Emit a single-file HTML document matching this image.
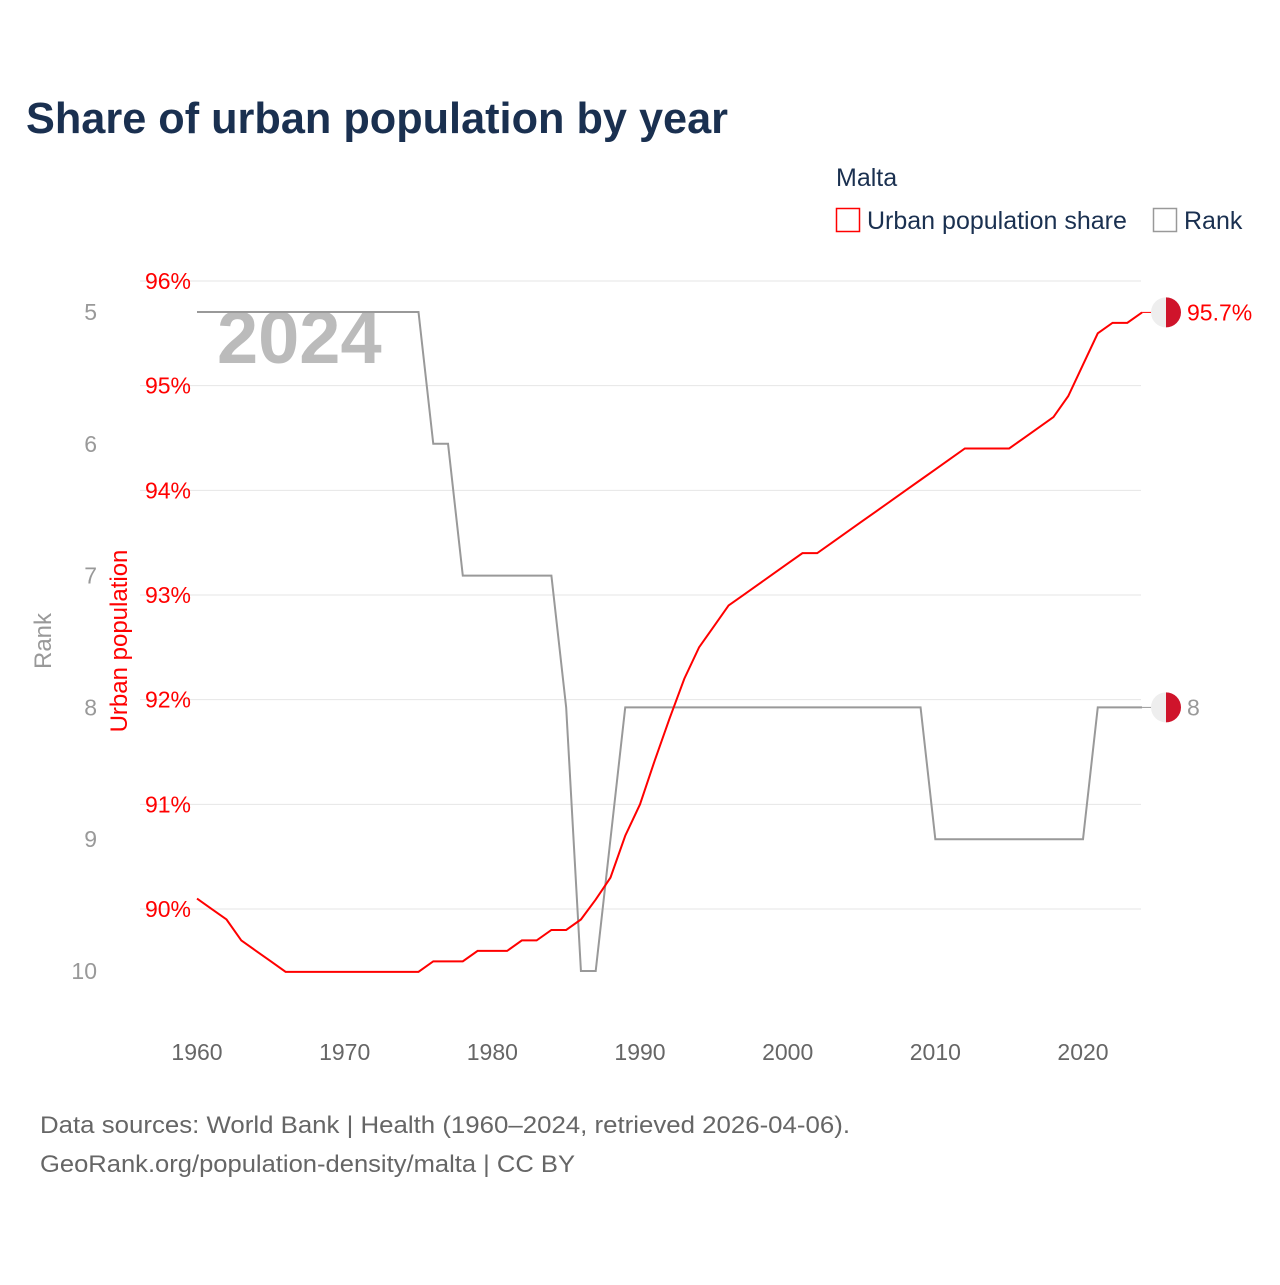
<!DOCTYPE html>
<html><head><meta charset="utf-8"><style>
body{margin:0;background:#fff;}
svg text{font-family:"Liberation Sans",sans-serif;}
</style></head><body>
<svg width="1280" height="1280" viewBox="0 0 1280 1280">
<text x="26" y="133" font-size="44" font-weight="bold" fill="#1a3050" textLength="702" lengthAdjust="spacingAndGlyphs">Share of urban population by year</text>
<text x="836" y="186" font-size="25" fill="#1a3050">Malta</text>
<g><rect x="836.5" y="208.5" width="23" height="23" fill="none" stroke="#f00" stroke-width="1.5"/><text x="867" y="229" font-size="25" fill="#1a3050">Urban population share</text></g>
<g><rect x="1153.5" y="208.5" width="23" height="23" fill="none" stroke="#999" stroke-width="1.5"/><text x="1184" y="229" font-size="25" fill="#1a3050">Rank</text></g>
<g id="grid"></g>
<g id="axes"></g>
<text x="217" y="363" font-size="74" font-weight="bold" fill="#bbb">2024</text>
<g id="series"></g>
<text transform="translate(51,641) rotate(-90)" text-anchor="middle" font-size="24" fill="#999">Rank</text>
<text transform="translate(127,641) rotate(-90)" text-anchor="middle" font-size="24" fill="#f00">Urban population</text>
<text x="40" y="1133" font-size="24.5" fill="#666" textLength="810" lengthAdjust="spacingAndGlyphs">Data sources: World Bank | Health (1960–2024, retrieved 2026-04-06).</text>
<text x="40" y="1172" font-size="24.5" fill="#666" textLength="535" lengthAdjust="spacingAndGlyphs">GeoRank.org/population-density/malta | CC BY</text>
</svg>
<script>
const years=[];for(let y=1960;y<=2024;y++)years.push(y);
const urban=[90.1,90.0,89.9,89.7,89.6,89.5,89.4,89.4,89.4,89.4,89.4,89.4,89.4,89.4,89.4,89.4,89.5,89.5,89.5,89.6,89.6,89.6,89.7,89.7,89.8,89.8,89.9,90.09,90.3,90.7,91.0,91.42,91.82,92.2,92.5,92.7,92.9,93.0,93.1,93.2,93.3,93.4,93.4,93.5,93.6,93.7,93.8,93.9,94.0,94.1,94.2,94.3,94.4,94.4,94.4,94.4,94.5,94.6,94.7,94.9,95.2,95.5,95.6,95.6,95.7];
const rank=[5,5,5,5,5,5,5,5,5,5,5,5,5,5,5,5,6,6,7,7,7,7,7,7,7,8,10,10,9,8,8,8,8,8,8,8,8,8,8,8,8,8,8,8,8,8,8,8,8,8,9,9,9,9,9,9,9,9,9,9,9,8,8,8,8];
const xTicks=[1960,1970,1980,1990,2000,2010,2020];
const urbanTicks=[90,91,92,93,94,95,96];
const rankTicks=[5,6,7,8,9,10];
const NS="http://www.w3.org/2000/svg";
const X=y=>197+(y-1960)*(886/60);
const YU=v=>281+(96-v)*104.67;
const YR=r=>312+(r-5)*131.8;
function mk(tag,attrs,parent,txt){const e=document.createElementNS(NS,tag);for(const k in attrs)e.setAttribute(k,attrs[k]);if(txt!==undefined)e.textContent=txt;document.getElementById(parent).appendChild(e);return e;}
urbanTicks.forEach(t=>{
 const l=mk('line',{x1:140,x2:1141,y1:YU(t),y2:YU(t),stroke:'#e6e6e6','stroke-width':1},'grid');
 
 
 const tx=mk('text',{x:191,y:YU(t)+8,'text-anchor':'end','font-size':23,fill:'#f00'},'axes',t+'%');
 
 
});
rankTicks.forEach(t=>{
 const tx=mk('text',{x:97,y:YR(t)+8,'text-anchor':'end','font-size':23,fill:'#999'},'axes',t);
 
 
});
xTicks.forEach(t=>{
 const tx=mk('text',{x:X(t),y:1060,'text-anchor':'middle','font-size':23,fill:'#666'},'axes',t);
 
 
});
const rp=mk('polyline',{points:years.map((y,i)=>X(y)+','+YR(rank[i])).join(' '),fill:'none',stroke:'#999','stroke-width':2},'series');


const up=mk('polyline',{points:years.map((y,i)=>X(y)+','+YU(urban[i])).join(' '),fill:'none',stroke:'#f00','stroke-width':2},'series');


function flag(cy,label,color,name){
 const last=X(years[years.length-1]);
 mk('line',{x1:last,x2:1151,y1:cy,y2:cy,stroke:color,'stroke-width':1},'series');
 const g=mk('g',{},'series');
 
 
 const cx=1166;
 const a=document.createElementNS(NS,'path');a.setAttribute('d',`M${cx},${cy-15} A15,15 0 0 0 ${cx},${cy+15} Z`);a.setAttribute('fill','#eee');g.appendChild(a);
 const b=document.createElementNS(NS,'path');b.setAttribute('d',`M${cx},${cy-15} A15,15 0 0 1 ${cx},${cy+15} Z`);b.setAttribute('fill','#cf142b');g.appendChild(b);
 const t=mk('text',{x:1187,y:cy+8,'font-size':23,fill:color},'series',label);
 
 
}
flag(YU(urban[urban.length-1]),urban[urban.length-1]+'%','#f00','urban');
flag(YR(rank[rank.length-1]),rank[rank.length-1],'#999','rank');
</script>
</body></html>
